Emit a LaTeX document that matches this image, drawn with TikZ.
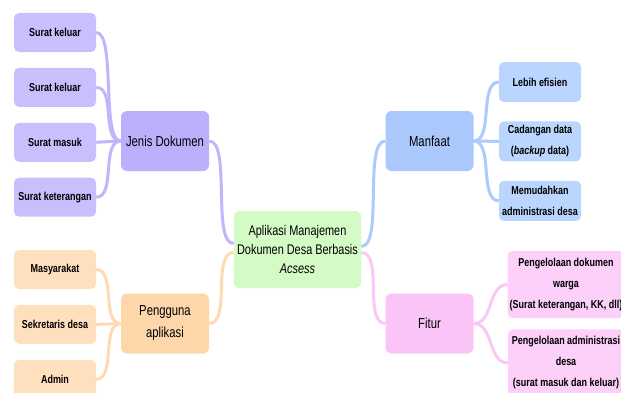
\documentclass[tikz,border=0pt]{standalone}
\usepackage{fontspec}
\setmainfont{Liberation Sans}[FakeStretch=0.78]
\usepackage{tikz}
\usetikzlibrary{positioning}
\definecolor{purpleleaf}{RGB}{200,192,253}
\definecolor{purplemain}{RGB}{186,176,251}
\definecolor{purpleline}{RGB}{192,182,254}
\definecolor{blueleaf}{RGB}{186,214,255}
\definecolor{bluemain}{RGB}{170,200,251}
\definecolor{blueline}{RGB}{172,202,253}
\definecolor{pinkleaf}{RGB}{252,208,249}
\definecolor{pinkmain}{RGB}{250,196,246}
\definecolor{pinkline}{RGB}{250,200,247}
\definecolor{orangeleaf}{RGB}{255,224,190}
\definecolor{orangemain}{RGB}{253,214,170}
\definecolor{orangeline}{RGB}{254,218,178}
\definecolor{greencenter}{RGB}{212,250,198}
\tikzstyle{link} = [line width=3pt]

\begin{document}
\begin{tikzpicture}[x=1pt, y=1pt, node distance=15.5pt,
centernode/.style={rounded corners=6pt, minimum width=125pt, minimum height=77pt, align=center, font=\fontsize{14}{19}\selectfont},
mainnode/.style={rounded corners=6pt, minimum width=88pt, minimum height=60pt, align=center, font=\fontsize{14.5}{22}\selectfont},
leafnode/.style={rounded corners=5pt, minimum width=82pt, minimum height=39pt, inner sep=2pt, align=center, font=\fontsize{11.5}{21}\selectfont\bfseries},
wideleaf/.style={leafnode, minimum width=116pt, minimum height=67pt},]
\useasboundingbox (0,0) rectangle (621,392);
\clip (0,0) rectangle (621,392);
\node[centernode, fill=greencenter](app) at (297.5,142.5) {Aplikasi Manajemen\\Dokumen Desa Berbasis\\\textit{Acsess}};
\node[mainnode, fill=purplemain](jenis) at (165,251) {Jenis Dokumen};
\node[mainnode, fill=orangemain](pengguna) at (165,68.5) {Pengguna\\aplikasi};
\node[mainnode, fill=bluemain](manfaat) at (429.5,251) {Manfaat};
\node[mainnode, fill=pinkmain](fitur) at (429.5,68.5) {Fitur};
\node[leafnode, fill=purpleleaf](dok1) at (55,359.5) {Surat keluar};
\node[leafnode, fill=purpleleaf, below=of dok1](dok2) {Surat keluar};
\node[leafnode, fill=purpleleaf, below=of dok2](dok3) {Surat masuk};
\node[leafnode, fill=purpleleaf, below=of dok3](dok4) {Surat keterangan};
\node[leafnode, fill=orangeleaf](user1) at (55,122.5) {Masyarakat};
\node[leafnode, fill=orangeleaf, below=of user1](user2) {Sekretaris desa};
\node[leafnode, fill=orangeleaf, below=of user2](user3) {Admin};
\node[leafnode, fill=blueleaf, minimum height=40pt](guna1) at (540,310) {Lebih efisien};
\node[leafnode, fill=blueleaf, minimum height=40pt, below=19pt of guna1](guna2) {Cadangan data\\(\textit{backup} data)};
\node[leafnode, fill=blueleaf, minimum height=40pt, below=19pt of guna2](guna3) {Memudahkan\\administrasi desa};
\node[wideleaf, fill=pinkleaf](fitur1) at (566,107.5) {Pengelolaan dokumen\\warga\\(Surat keterangan, KK, dll)};
\node[wideleaf, fill=pinkleaf, below=11pt of fitur1](fitur2) {Pengelolaan administrasi\\desa\\(surat masuk dan keluar)};
\draw[link, draw=purpleline] (dok1.east) .. controls +(20,0) and +(-20,0) .. (jenis.west);
\draw[link, draw=purpleline] (dok2.east) .. controls +(20,0) and +(-20,0) .. (jenis.west);
\draw[link, draw=purpleline] (dok3.east) -- (jenis.west);
\draw[link, draw=purpleline] (dok4.east) .. controls +(20,0) and +(-20,0) .. (jenis.west);
\draw[link, draw=orangeline] (user1.east) .. controls +(20,0) and +(-20,0) .. (pengguna.west);
\draw[link, draw=orangeline] (user2.east) -- (pengguna.west);
\draw[link, draw=orangeline] (user3.east) .. controls +(20,0) and +(-20,0) .. (pengguna.west);
\draw[link, draw=blueline] (manfaat.east) .. controls +(20,0) and +(-20,0) .. (guna1.west);
\draw[link, draw=blueline] (manfaat.east) -- (guna2.west);
\draw[link, draw=blueline] (manfaat.east) .. controls +(20,0) and +(-20,0) .. (guna3.west);
\draw[link, draw=pinkline] (fitur.east) .. controls +(20,0) and +(-20,0) .. (fitur1.west);
\draw[link, draw=pinkline] (fitur.east) .. controls +(20,0) and +(-20,0) .. (fitur2.west);
\draw[link, draw=purpleline] (jenis.east) .. controls +(22,0) and +(-22,0) .. ([yshift=6pt]app.west);
\draw[link, draw=orangeline] (pengguna.east) .. controls +(22,0) and +(-22,0) .. ([yshift=-3pt]app.west);
\draw[link, draw=blueline] (manfaat.west) .. controls +(-22,0) and +(22,0) .. ([yshift=3pt]app.east);
\draw[link, draw=pinkline] (fitur.west) .. controls +(-22,0) and +(22,0) .. ([yshift=-3pt]app.east);
\end{tikzpicture}
\end{document}
